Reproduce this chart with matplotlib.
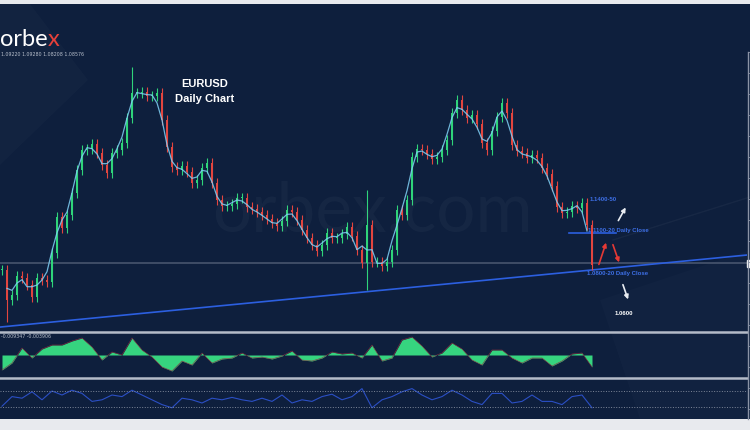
import matplotlib.pyplot as plt
import matplotlib.patches as mpatches
from matplotlib.lines import Line2D
import numpy as np

# daily closes (one every ~5 px)
closes = [
    1.0753, 1.0471, 1.0518, 1.0697, 1.0678, 1.0612, 1.0499, 1.0678, 1.0659, 1.0640,
    1.0913, 1.1251, 1.1148, 1.1270, 1.1477, 1.1693, 1.1881, 1.1890, 1.1937, 1.1853,
    1.1740, 1.1665, 1.1853, 1.1881, 1.1947, 1.2182, 1.2417, 1.2417, 1.2426, 1.2389,
    1.2389, 1.2417, 1.2163, 1.1909, 1.1721, 1.1693, 1.1731, 1.1674, 1.1571, 1.1599,
    1.1712, 1.1759, 1.1571, 1.1411, 1.1355, 1.1355, 1.1373, 1.1430, 1.1430, 1.1345,
    1.1326, 1.1298, 1.1270, 1.1232, 1.1195, 1.1167, 1.1214, 1.1317, 1.1298, 1.1223,
    1.1129, 1.1054, 1.0988, 1.0932, 1.0988, 1.1101, 1.1054, 1.1054, 1.1091, 1.1157,
    1.1073, 1.0941, 1.0819, 1.1176, 1.0828, 1.0828, 1.0791, 1.0828, 1.0941, 1.1317,
    1.1270, 1.1411, 1.1815, 1.1890, 1.1881, 1.1843, 1.1796, 1.1815, 1.1881, 1.1975,
    1.2229, 1.2351, 1.2257, 1.2182, 1.2210, 1.2125, 1.1947, 1.1881, 1.2060, 1.2191,
    1.2323, 1.2229, 1.1928, 1.1872, 1.1853, 1.1806, 1.1834, 1.1806, 1.1712, 1.1655,
    1.1543, 1.1345, 1.1289, 1.1298, 1.1355, 1.1336, 1.1383, 1.1176, 1.0800,
]
spike_highs = {26: 1.2661, 73: 1.1505}
spike_lows = {1: 1.0264, 73: 1.0565}

# MACD histogram and RSI, one value every ~10 px
macd_hist = [
    -15, -8, 7, -3, 6, 10, 10, 14, 17, 8, -5, 3, 0, 17, 5, -2, -12, -16, -6, -10,
    2, -8, -4, -3, 2, -3, -2, -4, -1, 4, -5, -6, -3, 3, 1, 2, -3, 10, -6, -3,
    15, 18, 9, -2, 2, 12, 6, -5, -10, 5, 5, -3, -8, -3, -3, -11, -6, 1, 2, -12,
]
rsi = [
    32, 56, 52, 68, 48, 70, 60, 72, 64, 44, 48, 60, 56, 72, 60, 48, 36, 28, 52, 48,
    40, 52, 48, 54, 48, 44, 52, 44, 60, 40, 48, 44, 56, 62, 48, 56, 76, 28, 48, 56,
    68, 76, 60, 48, 56, 72, 60, 44, 36, 64, 64, 40, 44, 60, 44, 44, 36, 56, 60, 28,
]

current_price = 1.0819
trend_start, trend_end = 1.0217, 1.0894
daily_close_level = 1.1101

navy = '#0e1f3d'
up_col, dn_col = '#2fd47a', '#e2453f'
label_blue = '#3d6fe6'

W, H = 750, 430


def fx(x):
    return x / W


def fy(y):
    return 1 - y / H


fig = plt.figure(figsize=(7.5, 4.3), dpi=100)
fig.patch.set_facecolor('#e8eaee')

# background panel with faint decorations
bg = fig.add_axes([0, fy(419), 1, fy(4) - fy(419)])
bg.set_facecolor(navy)
bg.set_xlim(0, W)
bg.set_ylim(419, 4)
bg.set_xticks([])
bg.set_yticks([])
for s in bg.spines.values():
    s.set_visible(False)
bg.add_patch(mpatches.Polygon([(0, 4), (30, 4), (88, 80), (0, 165)], color='white', alpha=0.02, lw=0))
bg.add_patch(mpatches.Polygon([(600, 300), (750, 250), (750, 419), (640, 419)], color='white', alpha=0.015, lw=0))
bg.plot([613, 750], [240, 197], color='white', alpha=0.04, lw=1)

fig.text(fx(372), fy(212), 'orbex.com', fontsize=50, color='white', alpha=0.03,
         ha='center', va='center', family='Lato')

# main price panel
ax = fig.add_axes([0, fy(331), fx(747), fy(4) - fy(331)])
ax.set_xlim(-0.4, 149.0)
ax.set_ylim(1.0180, 1.3253)
ax.axis('off')

c = np.array(closes)
n = len(c)
idx = np.arange(n)
o = np.r_[c[0], c[:-1]]
hi = np.maximum(o, c) + 0.0045
lo = np.minimum(o, c) - 0.0045
for k, v in spike_highs.items():
    hi[k] = v
for k, v in spike_lows.items():
    lo[k] = v
cols = [up_col if cc >= oo else dn_col for oo, cc in zip(o, c)]
ax.vlines(idx, lo, hi, colors=cols, lw=0.8, zorder=3)
body = np.where(np.abs(c - o) < 0.0008, 0.0008, c - o)
ax.bar(idx, body, bottom=o, width=0.5, color=cols, zorder=4)
ma = np.convolve(c, np.ones(3) / 3, mode='valid')
ax.plot(idx[1:-1], ma, color='#7fd0f5', lw=0.9, alpha=0.85, zorder=5)

ax.axhline(current_price, color='#56627a', lw=1.2, alpha=0.8, zorder=1)
ax.plot([-0.4, 149.0], [trend_start, trend_end], color='#2c5fe0', lw=1.2, zorder=2)
ax.plot([113.4, 122.8], [daily_close_level, daily_close_level], color='#2c5fe0', lw=1.2, zorder=2)

tk = dict(fontsize=4.3, fontweight='bold', color=label_blue, family='Liberation Sans', va='center')
ax.text(117.6, 1.1420, '1.1400-50', **tk)
ax.text(117.2, 1.1125, '1.1100-20 Daily Close', **tk)
ax.text(117.0, 1.0725, '1.0800-20 Daily Close', **tk)
ax.text(122.6, 1.0345, '1.0600', fontsize=4.3, fontweight='bold', color='white',
        family='Liberation Sans', va='center')


def arrow(p0, p1, color):
    ax.annotate('', xy=p1, xytext=p0,
                arrowprops=dict(arrowstyle='-|>', color=color, lw=1.2, mutation_scale=6))


arrow((123.0, 1.1195), (125.0, 1.1364), '#e8ecf2')
arrow((119.2, 1.0781), (121.0, 1.1035), '#e53935')
arrow((122.0, 1.1016), (123.6, 1.0800), '#e53935')
arrow((124.0, 1.0640), (125.4, 1.0452), '#e8ecf2')

# macd panel
ax2 = fig.add_axes([0, fy(377), fx(747), fy(332) - fy(377)])
ax2.set_xlim(-0.4, 149.0)
m = np.array(macd_hist) * 0.0005
mx = np.arange(len(m)) * 2
ax2.fill_between(mx, 0, m, color='#36d47f', lw=0)
ax2.plot(mx, m, color='#8a3040', lw=0.4)
ax2.set_ylim(-0.011, 0.0115)
ax2.axis('off')

# rsi panel
ax3 = fig.add_axes([0, fy(418), fx(747), fy(378) - fy(418)])
ax3.set_xlim(-0.4, 149.0)
ax3.set_ylim(2.5, 102.5)
ax3.plot(np.arange(len(rsi)) * 2, rsi, color='#2b4fc4', lw=0.8)
for lvl in (70, 30):
    ax3.axhline(lvl, color='#7e8799', lw=0.7, ls=':')
ax3.axis('off')

# separators and right-hand axis
for yy in (331.5, 377.5):
    fig.add_artist(Line2D([0, fx(747)], [fy(yy), fy(yy)], color='#b4bbc8', lw=1.8))
fig.add_artist(Line2D([fx(747.5), fx(747.5)], [fy(52), fy(419)], color='#8a93a6', lw=1))
for yy in range(52, 419, 21):
    fig.add_artist(Line2D([fx(747.5), fx(750)], [fy(yy), fy(yy)], color='#8a93a6', lw=0.6))
fig.add_artist(mpatches.Rectangle((fx(747), fy(267)), fx(3), fy(260) - fy(267), color='white'))

# texts
fig.text(fx(1), fy(55), '1.09220 1.09280 1.08208 1.08576', fontsize=3.4, color='#b8bfcc', va='center')
fig.text(fx(1), fy(336), '-0.009347 -0.003906', fontsize=3.4, color='#b8bfcc', va='center')
fig.text(fx(205), fy(84), 'EURUSD', fontsize=8, fontweight='bold', color='white',
         family='Liberation Sans', ha='center', va='center')
fig.text(fx(205), fy(99), 'Daily Chart', fontsize=8, fontweight='bold', color='white',
         family='Liberation Sans', ha='center', va='center')

logo = fig.text(fx(0), fy(46), 'orbe', fontsize=17, color='white', family='Lato', va='baseline')
fig.canvas.draw()
bb = logo.get_window_extent()
fig.text(bb.x1 / fig.bbox.width, fy(46), 'x', fontsize=17, color='#e8413a', family='Lato', va='baseline')

fig.savefig('out.png', dpi=100, facecolor=fig.get_facecolor())
